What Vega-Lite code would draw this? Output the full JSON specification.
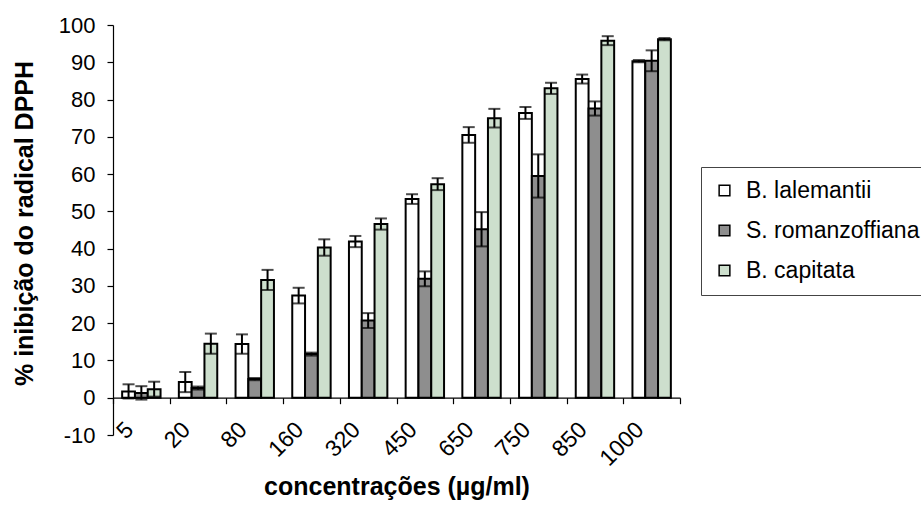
{
  "$schema": "https://vega.github.io/schema/vega-lite/v6.json",
  "width": 567,
  "height": 410,
  "autosize": {"type": "none"},
  "padding": {"left": 113, "top": 25, "right": 241, "bottom": 84},
  "background": "white",
  "config": {
    "view": {"stroke": null},
    "font": "Liberation Sans",
    "axis": {"labelOverlap": false}
  },
  "data": {
    "values": [
      {"conc": "5", "species": "B. lalemantii", "v": 1.7, "e": 1.9},
      {"conc": "5", "species": "S. romanzoffiana", "v": 1.3, "e": 1.8},
      {"conc": "5", "species": "B. capitata", "v": 2.3, "e": 2.0},
      {"conc": "20", "species": "B. lalemantii", "v": 4.2, "e": 2.7},
      {"conc": "20", "species": "S. romanzoffiana", "v": 2.6, "e": 0.4},
      {"conc": "20", "species": "B. capitata", "v": 14.5, "e": 2.7},
      {"conc": "80", "species": "B. lalemantii", "v": 14.4, "e": 2.6},
      {"conc": "80", "species": "S. romanzoffiana", "v": 5.0, "e": 0.3},
      {"conc": "80", "species": "B. capitata", "v": 31.6, "e": 2.7},
      {"conc": "160", "species": "B. lalemantii", "v": 27.4, "e": 2.1},
      {"conc": "160", "species": "S. romanzoffiana", "v": 11.7, "e": 0.4},
      {"conc": "160", "species": "B. capitata", "v": 40.3, "e": 2.2},
      {"conc": "320", "species": "B. lalemantii", "v": 41.9, "e": 1.5},
      {"conc": "320", "species": "S. romanzoffiana", "v": 20.7, "e": 2.0},
      {"conc": "320", "species": "B. capitata", "v": 46.6, "e": 1.5},
      {"conc": "450", "species": "B. lalemantii", "v": 53.3, "e": 1.3},
      {"conc": "450", "species": "S. romanzoffiana", "v": 31.9, "e": 2.0},
      {"conc": "450", "species": "B. capitata", "v": 57.3, "e": 1.6},
      {"conc": "650", "species": "B. lalemantii", "v": 70.5, "e": 2.1},
      {"conc": "650", "species": "S. romanzoffiana", "v": 45.2, "e": 4.6},
      {"conc": "650", "species": "B. capitata", "v": 75.0, "e": 2.5},
      {"conc": "750", "species": "B. lalemantii", "v": 76.4, "e": 1.6},
      {"conc": "750", "species": "S. romanzoffiana", "v": 59.5, "e": 5.8},
      {"conc": "750", "species": "B. capitata", "v": 83.0, "e": 1.5},
      {"conc": "850", "species": "B. lalemantii", "v": 85.5, "e": 1.2},
      {"conc": "850", "species": "S. romanzoffiana", "v": 77.6, "e": 1.9},
      {"conc": "850", "species": "B. capitata", "v": 95.8, "e": 1.2},
      {"conc": "1000", "species": "B. lalemantii", "v": 90.3, "e": 0.3},
      {"conc": "1000", "species": "S. romanzoffiana", "v": 90.4, "e": 2.8},
      {"conc": "1000", "species": "B. capitata", "v": 96.2, "e": 0.3}
    ]
  },
  "encoding": {
    "x": {
      "field": "conc",
      "type": "ordinal",
      "sort": ["5", "20", "80", "160", "320", "450", "650", "750", "850", "1000"],
      "scale": {"paddingInner": 0, "paddingOuter": 0},
      "axis": {
        "orient": "bottom",
        "offset": -37.3,
        "tickBand": "extent",
        "tickSize": 6,
        "tickColor": "black",
        "tickWidth": 1.2,
        "domainColor": "black",
        "domainWidth": 1.2,
        "labelAngle": -45,
        "labelAlign": "right",
        "labelBaseline": "middle",
        "labelOffset": -12,
        "labelPadding": 22,
        "labelFontSize": 23,
        "labelFont": "Liberation Sans",
        "labelColor": "black",
        "labelOverlap": false,
        "grid": false,
        "title": "concentrações (µg/ml)",
        "titleFont": "Liberation Sans",
        "titleFontSize": 25,
        "titleFontWeight": "bold",
        "titleColor": "black",
        "titleX": 283.5,
        "titleY": 97,
        "titleAlign": "center",
        "titleBaseline": "alphabetic",
        "titleAnchor": null
      }
    },
    "xOffset": {
      "field": "species",
      "type": "nominal",
      "sort": ["B. lalemantii", "S. romanzoffiana", "B. capitata"],
      "scale": {"paddingInner": 0, "paddingOuter": 0.715}
    },
    "y": {
      "field": "v",
      "type": "quantitative",
      "title": "% inibição do radical DPPH",
      "scale": {"domain": [-10, 100], "nice": false, "zero": false},
      "axis": {
        "values": [-10, 0, 10, 20, 30, 40, 50, 60, 70, 80, 90, 100],
        "labelExpr": "'' + datum.value",
        "labelOverlap": false,
        "tickSize": 6,
        "tickColor": "black",
        "tickWidth": 1.2,
        "domainColor": "black",
        "domainWidth": 1.2,
        "labelPadding": 12,
        "labelFontSize": 22,
        "labelFont": "Liberation Sans",
        "labelColor": "black",
        "grid": false,
        "titleFont": "Liberation Sans",
        "titleFontSize": 25,
        "titleFontWeight": "bold",
        "titleColor": "black",
        "titleX": -81,
        "titleY": 198,
        "titleAngle": -90,
        "titleAlign": "center",
        "titleBaseline": "alphabetic",
        "titleAnchor": null
      }
    }
  },
  "layer": [
    {
      "mark": {"type": "bar", "stroke": "black", "strokeWidth": 2},
      "encoding": {
        "y2": {"datum": 0},
        "fill": {
          "field": "species",
          "type": "nominal",
          "sort": ["B. lalemantii", "S. romanzoffiana", "B. capitata"],
          "scale": {
            "domain": ["B. lalemantii", "S. romanzoffiana", "B. capitata"],
            "range": ["#ffffff", "#8e8e8e", "#cddfcd"]
          },
          "legend": {
            "orient": "none",
            "legendX": 588,
            "legendY": 142,
            "title": null,
            "direction": "vertical",
            "symbolType": "square",
            "symbolSize": 115,
            "symbolStrokeColor": "black",
            "symbolStrokeWidth": 1.5,
            "symbolOpacity": 1,
            "labelFont": "Liberation Sans",
            "labelFontSize": 23,
            "labelColor": "black",
            "labelOffset": 10,
            "labelLimit": 500,
            "rowPadding": 16,
            "padding": 12,
            "strokeColor": "#444444",
            "fillColor": "white"
          }
        }
      }
    },
    {
      "mark": {
        "type": "errorbar",
        "ticks": {"size": 12, "thickness": 2, "color": "black"},
        "rule": {"strokeWidth": 2, "color": "black"}
      },
      "encoding": {
        "yError": {"field": "e"}
      }
    }
  ]
}
